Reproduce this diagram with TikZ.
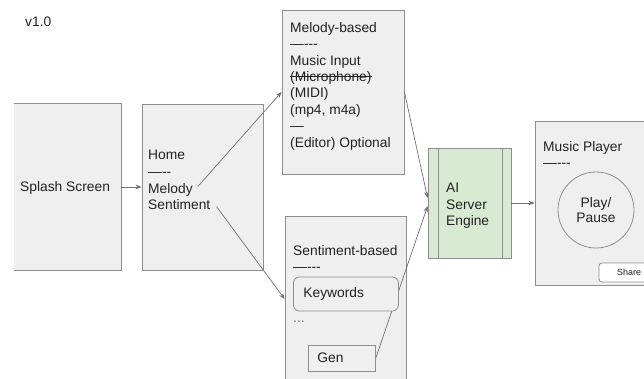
\documentclass[tikz,border=0pt]{standalone}
\usepackage{fontspec}
\setmainfont{Liberation Sans}
\usetikzlibrary{arrows.meta}
\definecolor{boxgray}{HTML}{EFEFEF}
\definecolor{edgegray}{HTML}{8E8E8E}
\definecolor{linegray}{HTML}{707070}
\definecolor{inkgray}{HTML}{222222}
\definecolor{enginegreen}{HTML}{D9EAD3}
\newlength\strikelen
\newcommand{\strikeout}[1]{\settowidth{\strikelen}{#1}\rlap{\rule[0.32em]{\strikelen}{0.7pt}}#1}

\tikzset{
  screen/.style={draw=edgegray, fill=boxgray, line width=0.8pt, inner sep=0pt},
  txt/.style={text=inkgray, font=\fontsize{13.8}{16.4}\selectfont, inner sep=0pt, anchor=north west, align=left},
  flow/.style={draw=linegray, line width=0.7pt, -{Stealth[length=6pt,width=4.5pt]}},
}

\begin{document}
\begin{tikzpicture}[x=1pt, y=-1pt]
            \useasboundingbox (0,0) rectangle (644,378);
            \node[txt, anchor=west]                                              (version) at ( 25.0, 22.0) {v1.0};
            % screens
            \node[screen, draw=none, minimum width=107pt, minimum height=166pt]  (splash)  at ( 67.5,187.0) {};
            \draw[edgegray, line width=0.8pt] (splash.north west) -- (splash.north east) -- (splash.south east) -- (splash.south west);
            \node[screen, minimum width=121pt, minimum height=166pt]             (home)    at (202.5,187.0) {};
            \node[screen, minimum width=122pt, minimum height=164pt]             (melbox)  at (343.0, 92.0) {};
            \node[screen, minimum width=121pt, minimum height=166pt]             (sentbox) at (345.5,299.0) {};
            \node[screen, fill=enginegreen, minimum width=83pt, minimum height=110pt] (engine) at (469.5,203.0) {};
            \node[screen, minimum width=120pt, minimum height=164pt]             (player)  at (595.0,203.0) {};
            \draw[edgegray, line width=0.8pt] ([xshift=11pt]engine.north west) -- ([xshift=11pt]engine.south west)
                                               ([xshift=-9pt]engine.north east) -- ([xshift=-9pt]engine.south east);
            % texts
            \node[txt, anchor=west]                                              (splashtxt) at ( 20.0,188.0) {Splash Screen};
            \node[txt]                                                           (hometxt) at (148.0,150.0) {Home\\—-{}-};
            \node[txt, anchor=base west]                                         (homemel) at (148.0,193.0) {Melody};
            \node[txt, anchor=base west]                                         (homesent) at (148.0,209.5) {Sentiment};
            \node[txt]                                                           (meltxt)  at (290.0, 22.0) {Melody-based\\—-{}-{}-\\Music Input\\\strikeout{(Microphone)}\\(MIDI)\\(mp4, m4a)\\—\\(Editor) Optional};
            \node[txt]                                                           (senttxt) at (293.0,245.0) {Sentiment-based\\—-{}-{}-};
            \node[txt]                                                           (enginetxt) at (446.0,183.0) {AI\\Server\\Engine};
            \node[txt]                                                           (playertxt) at (543.0,141.0) {Music Player\\—-{}-{}-};
            \node[screen, circle, minimum size=76pt, align=center, text=inkgray, font=\fontsize{13.8}{15.5}\selectfont] (play) at (596.0,210.0) {Play/\\Pause};
            \node[screen, fill=white, rounded corners=3pt, minimum width=60pt, minimum height=19pt, text=inkgray, font=\fontsize{9}{10}\selectfont] (share) at (629.0,272.5) {Share};
            \node[screen, fill=boxgray, anchor=west, minimum height=26pt, inner xsep=9pt, text width=49pt, align=left, text=inkgray, font=\fontsize{13.8}{16}\selectfont] (gen) at (308.0,358.0) {Gen};
            % connectors
            \draw[flow] (gen.east) -- ([yshift=-3pt]engine.west);
            \node[screen, rounded corners=6pt, anchor=west, minimum height=34pt, inner xsep=10pt, text width=85pt, align=left, text=inkgray, font=\fontsize{13.8}{16}\selectfont] (keywords) at (293.0,294.0) {Keywords};
            \node[txt, anchor=base west, text=linegray]                          (more)    at (293.0,322.0) {...};
            \draw[flow] (splash.east) -- (home.west |- splash.east);
            \draw[flow] ([xshift=5pt,yshift=3pt]homemel.east) -- (melbox.west);
            \draw[flow] ([xshift=6pt,yshift=-2pt]homesent.east) -- (sentbox.west);
            \draw[flow] (melbox.east) -- ([yshift=5pt]engine.west);
            \draw[flow] (engine.east) -- (player.west);
        \end{tikzpicture}
\end{document}
